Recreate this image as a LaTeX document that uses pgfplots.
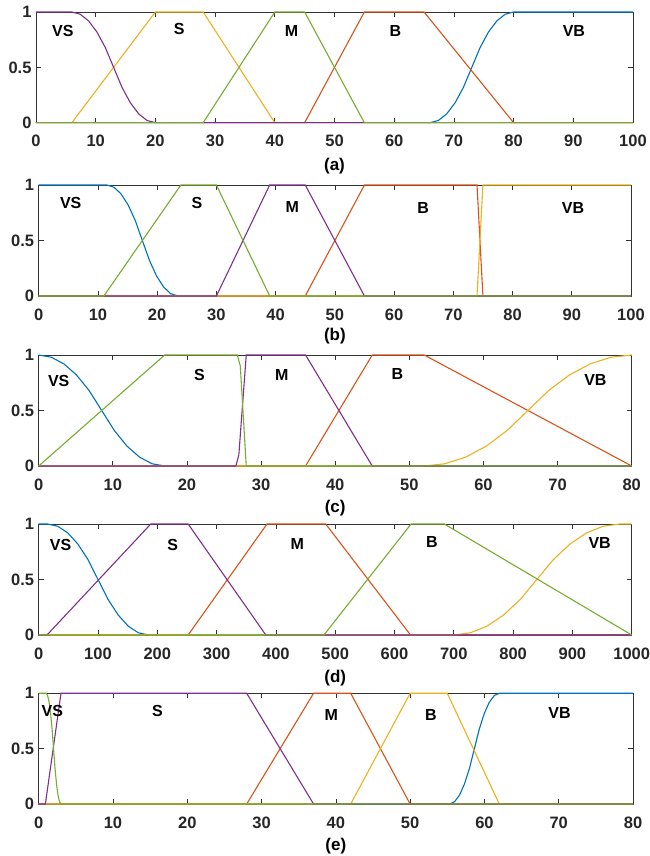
\documentclass[border=0pt]{standalone}
\usepackage{fontspec}
\setmainfont{Liberation Sans}
\usepackage{pgfplots}
\pgfplotsset{compat=1.18}
\definecolor{mblue}{rgb}{0,0.447,0.741}
\definecolor{morange}{rgb}{0.850,0.325,0.098}
\definecolor{myellow}{rgb}{0.929,0.694,0.125}
\definecolor{mpurple}{rgb}{0.494,0.184,0.556}
\definecolor{mgreen}{rgb}{0.466,0.674,0.188}
\pgfplotsset{
  mf/.style={
    scale only axis, anchor=south west,
    xmin=0, ymin=0, ymax=1,
    ytick={0,0.5,1}, yticklabels={0,0.5,1},
    tick align=inside, major tick length=5pt,
    axis line style={black!80, line width=0.7pt},
    every tick/.style={black!80, line width=0.7pt},
    clip=false,
    tick label style={font=\bfseries\fontsize{16.5}{16.5}\selectfont, text=black!85},
    /pgf/number format/assume math mode=true,
    /pgf/number format/1000 sep={},
    xticklabel style={yshift=-9pt},
    yticklabel style={xshift=-1pt},
    every axis plot/.append style={line width=1.1pt},
  },
}
\tikzset{lab/.style={font=\bfseries\fontsize{16}{16}\selectfont}}
\newcommand{\capfont}{\bfseries\fontsize{17}{17}\selectfont}
\begin{document}
\begin{tikzpicture}
\useasboundingbox (0,0) rectangle (649pt,856pt);
% ---------------- (a)
\begin{axis}[mf, name=a, at={(36pt,733.3pt)}, width=597pt, height=110.7pt,
  xmax=100, xtick={0,10,...,100}]
\addplot[mblue] coordinates {(0,0)(66,0)(67.4,0.02)(68.8,0.08)(70.2,0.18)(71.6,0.32)(73,0.5)(74.4,0.68)(75.8,0.82)(77.2,0.92)(78.6,0.98)(80,1)(100,1)};
\addplot[morange] coordinates {(0,0)(45,0)(55,1)(65,1)(80,0)(100,0)};
\addplot[myellow] coordinates {(0,0)(6,0)(20,1)(28,1)(40,0)(100,0)};
\addplot[mpurple] coordinates {(0,1)(6,1)(7.4,0.98)(8.8,0.92)(10.2,0.82)(11.6,0.68)(13,0.5)(14.4,0.32)(15.8,0.18)(17.2,0.08)(18.6,0.02)(20,0)(100,0)};
\addplot[mgreen] coordinates {(0,0)(28,0)(40,1)(45,1)(55,0)(100,0)};
\node[lab] at (axis cs:4.5,0.826) {VS};
\node[lab] at (axis cs:24,0.85) {S};
\node[lab] at (axis cs:42.8,0.826) {M};
\node[lab] at (axis cs:60.2,0.826) {B};
\node[lab] at (axis cs:90.1,0.826) {VB};
\end{axis}
\node[font=\capfont] at ([yshift=-43pt]a.south) {(a)};
% ---------------- (b)
\begin{axis}[mf, name=b, at={(38.7pt,560pt)}, width=592.3pt, height=111pt,
  xmax=100, xtick={0,10,...,100}]
\addplot[mblue] coordinates {(0,1)(11.5,1)(12.7,0.98)(13.9,0.92)(15.1,0.82)(16.3,0.68)(17.5,0.5)(18.7,0.32)(19.9,0.18)(21.1,0.08)(22.3,0.02)(23.5,0)(100,0)};
\addplot[morange] coordinates {(0,0)(45,0)(55,1)(74,1)(75,0)(100,0)};
\addplot[myellow] coordinates {(0,0)(74,0)(75,1)(100,1)};
\addplot[mpurple] coordinates {(0,0)(30,0)(39,1)(45,1)(55,0)(100,0)};
\addplot[mgreen] coordinates {(0,0)(11,0)(24,1)(30,1)(39,0)(100,0)};
\node[lab] at (axis cs:5.4,0.835) {VS};
\node[lab] at (axis cs:26.7,0.835) {S};
\node[lab] at (axis cs:42.8,0.805) {M};
\node[lab] at (axis cs:64.9,0.79) {B};
\node[lab] at (axis cs:90.2,0.79) {VB};
\end{axis}
\node[font=\capfont] at ([yshift=-40pt]b.south) {(b)};
% ---------------- (c)
\begin{axis}[mf, name=c, at={(38.7pt,390pt)}, width=593pt, height=111pt,
  xmax=80, xtick={0,10,...,80}]
\addplot[mblue] coordinates {(0,1)(1.7,0.98)(3.4,0.92)(5.1,0.82)(6.8,0.68)(8.5,0.5)(10.2,0.32)(11.9,0.18)(13.6,0.08)(15.3,0.02)(17,0)(80,0)};
\addplot[morange] coordinates {(0,0)(36,0)(45,1)(52,1)(80,0)};
\addplot[myellow] coordinates {(0,0)(52,0)(54.8,0.02)(57.6,0.08)(60.4,0.18)(63.2,0.32)(66,0.5)(68.8,0.68)(71.6,0.82)(74.4,0.92)(77.2,0.98)(80,1)};
\addplot[mpurple] coordinates {(0,0)(26.6,0)(27,0.1)(28,1)(36,1)(45,0)(80,0)};
\addplot[mgreen] coordinates {(0,0)(17,1)(26.8,1)(27.2,0.9)(28,0)(80,0)};
\node[lab] at (axis cs:2.7,0.766) {VS};
\node[lab] at (axis cs:21.7,0.816) {S};
\node[lab] at (axis cs:32.8,0.816) {M};
\node[lab] at (axis cs:48.4,0.825) {B};
\node[lab] at (axis cs:75.1,0.774) {VB};
\end{axis}
\node[font=\capfont] at ([yshift=-42pt]c.south) {(c)};
% ---------------- (d)
\begin{axis}[mf, name=d, at={(38.7pt,221pt)}, width=593pt, height=111pt,
  xmax=1000, xtick={0,100,...,1000}]
\addplot[mblue] coordinates {(0,1)(15,1)(32,0.98)(49,0.92)(66,0.82)(83,0.68)(100,0.5)(117,0.32)(134,0.18)(151,0.08)(168,0.02)(185,0)(1000,0)};
\addplot[morange] coordinates {(0,0)(252,0)(385,1)(484,1)(627,0)(1000,0)};
\addplot[myellow] coordinates {(0,0)(700,0)(728,0.02)(756,0.08)(784,0.18)(812,0.32)(840,0.5)(868,0.68)(896,0.82)(924,0.92)(952,0.98)(980,1)(1000,1)};
\addplot[mpurple] coordinates {(0,0)(14,0)(189,1)(252,1)(383,0)(1000,0)};
\addplot[mgreen] coordinates {(0,0)(481,0)(628,1)(684,1)(1000,0)};
\node[lab] at (axis cs:37,0.81) {VS};
\node[lab] at (axis cs:226,0.81) {S};
\node[lab] at (axis cs:436,0.82) {M};
\node[lab] at (axis cs:663,0.835) {B};
\node[lab] at (axis cs:946,0.829) {VB};
\end{axis}
\node[font=\capfont] at ([yshift=-43pt]d.south) {(d)};
% ---------------- (e)
\begin{axis}[mf, name=e, at={(38.7pt,52pt)}, width=594.3pt, height=110.7pt,
  xmax=80, xtick={0,10,...,80}]
\addplot[mblue] coordinates {(0,0)(55.3,0)(55.97,0.02)(56.64,0.08)(57.31,0.18)(57.98,0.32)(58.65,0.5)(59.32,0.68)(59.99,0.82)(60.66,0.92)(61.33,0.98)(62,1)(80,1)};
\addplot[morange] coordinates {(0,0)(28,0)(37,1)(42,1)(50,0)(80,0)};
\addplot[myellow] coordinates {(0,0)(42,0)(50,1)(55,1)(62,0)(80,0)};
\addplot[mpurple] coordinates {(0,0)(0.9,0)(3,1)(28,1)(37,0)(80,0)};
\addplot[mgreen] coordinates {(0,1)(1,1)(1.2,0.98)(1.4,0.92)(1.6,0.82)(1.8,0.68)(2,0.5)(2.2,0.32)(2.4,0.18)(2.6,0.08)(2.8,0.02)(3,0)(80,0)};
\node[lab] at (axis cs:1.84,0.838) {VS};
\node[lab] at (axis cs:16,0.838) {S};
\node[lab] at (axis cs:39.4,0.808) {M};
\node[lab] at (axis cs:52.8,0.808) {B};
\node[lab] at (axis cs:70.1,0.823) {VB};
\end{axis}
\node[font=\capfont] at ([yshift=-42pt]e.south) {(e)};
\end{tikzpicture}
\end{document}
